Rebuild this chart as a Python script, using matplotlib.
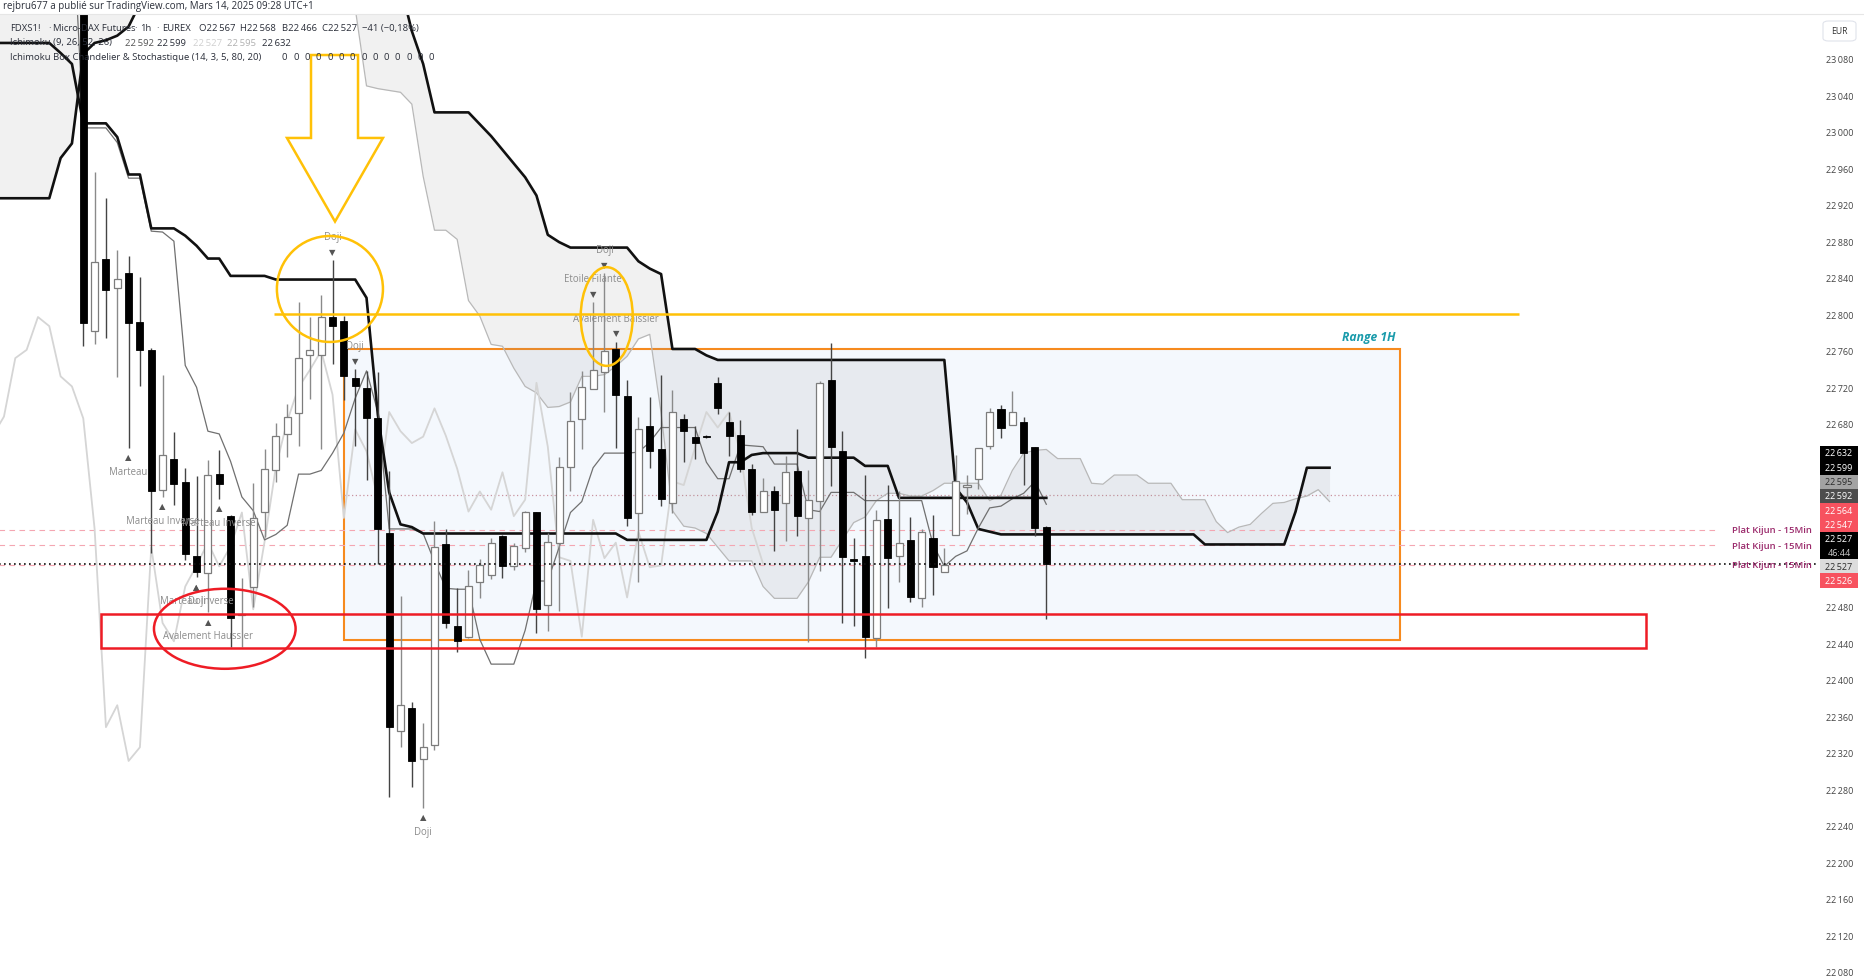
import matplotlib
matplotlib.use("Agg")
import matplotlib.pyplot as plt
import numpy as np
from matplotlib.patches import Rectangle, Ellipse, Polygon, FancyBboxPatch

plt.rcParams["font.family"] = ["Open Sans", "DejaVu Sans"]

W, H = 1865, 979

# ------------------------------- FDXS1! 1h candles, bar 0 = first candle on screen
opens = [23230, 22782, 22860, 22829, 22845, 22792, 22761, 22608, 22642, 22616,
         22535, 22517, 22625, 22579, 22471, 22501, 22583, 22630, 22669, 22692,
         22755, 22755, 22797, 22793, 22730, 22719, 22686, 22560, 22344, 22369,
         22313, 22328, 22548, 22459, 22447, 22507, 22515, 22557, 22524, 22544,
         22583, 22482, 22550, 22633, 22685, 22718, 22737, 22762, 22710, 22582,
         22678, 22653, 22593, 22685, 22666, 22667, 22725, 22682, 22668, 22631,
         22583, 22607, 22593, 22628, 22577, 22596, 22728, 22650, 22532, 22535,
         22446, 22576, 22535, 22553, 22489, 22555, 22518, 22558, 22611, 22620,
         22656, 22696, 22679, 22682, 22655, 22567]
highs = [23240, 22956, 22927, 22870, 22864, 22841, 22763, 22733, 22671, 22632,
         22623, 22640, 22651, 22580, 22511, 22615, 22652, 22681, 22702, 22813,
         22797, 22821, 22859, 22798, 22740, 22738, 22737, 22628, 22492, 22376,
         22353, 22574, 22565, 22500, 22520, 22532, 22555, 22558, 22550, 22585,
         22583, 22561, 22644, 22715, 22738, 22813, 22845, 22770, 22728, 22688,
         22709, 22733, 22717, 22691, 22678, 22668, 22731, 22693, 22684, 22636,
         22621, 22612, 22645, 22674, 22630, 22727, 22769, 22672, 22555, 22624,
         22586, 22613, 22607, 22578, 22565, 22580, 22544, 22646, 22624, 22654,
         22697, 22701, 22716, 22688, 22655, 22568]
lows = [22765, 22767, 22774, 22731, 22654, 22721, 22539, 22600, 22591, 22531,
        22512, 22474, 22598, 22436, 22436, 22480, 22556, 22616, 22644, 22656,
        22707, 22652, 22746, 22706, 22656, 22619, 22527, 22271, 22326, 22282,
        22260, 22323, 22457, 22430, 22446, 22489, 22510, 22511, 22520, 22540,
        22451, 22453, 22475, 22607, 22652, 22718, 22693, 22654, 22568, 22507,
        22632, 22590, 22582, 22638, 22642, 22665, 22691, 22645, 22627, 22580,
        22583, 22541, 22552, 22557, 22441, 22519, 22612, 22462, 22459, 22424,
        22436, 22478, 22507, 22485, 22480, 22493, 22518, 22558, 22581, 22609,
        22653, 22664, 22679, 22613, 22557, 22466]
closes = [22790, 22857, 22827, 22839, 22790, 22761, 22607, 22646, 22614, 22538,
          22518, 22624, 22614, 22468, 22471, 22577, 22631, 22667, 22688, 22752,
          22761, 22797, 22787, 22732, 22721, 22686, 22565, 22348, 22372, 22311,
          22326, 22545, 22462, 22442, 22502, 22525, 22550, 22524, 22546, 22583,
          22477, 22551, 22633, 22683, 22720, 22739, 22760, 22712, 22577, 22674,
          22650, 22598, 22693, 22672, 22659, 22666, 22697, 22667, 22631, 22584,
          22606, 22586, 22627, 22579, 22597, 22725, 22655, 22534, 22530, 22447,
          22575, 22533, 22550, 22490, 22562, 22523, 22525, 22617, 22613, 22654,
          22693, 22676, 22693, 22648, 22566, 22527]

# ------------------------------- Ichimoku (9, 26, 52, 26), values read per bar
tenkan_start = -1
tenkan = [23250,
          23004, 23004, 23004, 22988, 22949, 22949, 22891, 22890, 22880, 22744,
          22720, 22672, 22669, 22639, 22600, 22585, 22553, 22559, 22569, 22625,
          22625, 22629, 22648, 22670, 22708, 22738, 22693, 22565, 22565, 22565,
          22560, 22529, 22500, 22499, 22499, 22444, 22417, 22417, 22417, 22454,
          22508, 22508, 22545, 22583, 22595, 22632, 22648, 22648, 22648, 22649,
          22660, 22676, 22676, 22676, 22676, 22638, 22620, 22620, 22657, 22656,
          22655, 22636, 22636, 22636, 22586, 22584, 22605, 22605, 22605, 22596,
          22596, 22596, 22596, 22596, 22596, 22548, 22524, 22535, 22541, 22566,
          22588, 22590, 22598, 22604, 22617, 22592]

kijun_start = -8
kijun = ([23097] * 6 + [23086, 23074] + [23009] * 3 + [22994] + [22953] * 2
         + [22894] * 3 + [22886, 22875] + [22861] * 2 + [22842] * 4 + [22838] * 8
         + [22818, 22690, 22605, 22570, 22567] + [22560] * 18 + [22553] * 8
         + [22584] + [22638] * 2 + [22646] + [22648] * 4 + [22643] * 5
         + [22634] * 3 + [22599] * 14)

senkou_start = -8
senkou_a = ([23250] * 32
            + [23135, 23050, 23047, 23045, 23043, 23030, 22951, 22892, 22892, 22882,
               22815, 22798, 22767, 22765, 22741, 22721, 22714, 22698, 22699, 22704,
               22732, 22732, 22734, 22743, 22754, 22773, 22778, 22692, 22585, 22568,
               22566, 22560, 22545, 22530, 22530, 22530, 22502, 22489, 22489, 22489,
               22507, 22534, 22534, 22553, 22572, 22578, 22596, 22604, 22604, 22601,
               22601, 22607, 22615, 22615, 22615, 22615, 22596, 22602, 22629, 22648,
               22651, 22652, 22642, 22642, 22642, 22615, 22614, 22624, 22624, 22624,
               22615, 22615, 22615, 22597, 22597, 22597, 22573, 22561, 22567, 22570,
               22582, 22593, 22594, 22598, 22601, 22608, 22595])
senkou_b = ([22927] * 6 + [22971, 22987, 23085, 23097, 23100, 23105, 23115, 23140]
            + [23250] * 22
            + [23160, 23110, 23074, 23021, 23021, 23021, 23021, 23008, 22995, 22980,
               22965, 22950, 22930, 22887, 22879]
            + [22873] * 6 + [22858, 22850, 22844, 22762, 22762, 22762, 22755]
            + [22750] * 21 + [22610, 22594, 22565, 22562] + [22559] * 18
            + [22548] * 8 + [22584] + [22632] * 3)
chikou_shift = 25

# ------------------------------- candle patterns (bar, name, side)
pattern_bars = [4, 7, 10, 10, 11, 12, 22, 24, 30, 45, 46, 47]
pattern_names = ["Marteau", "Marteau Inverse", "Marteau Inverse", "Doji",
                 "Avalement Haussier", "Marteau Inverse", "Doji", "Doji", "Doji",
                 "Etoile Filante", "Doji", "Avalement Baissier"]
pattern_side = ["below", "below", "below", "below", "below", "below",
                "above", "above", "below", "above", "above", "above"]

# ------------------------------- horizontal levels
plat_kijun = [22564, 22547, 22526]
last_price = 22527
range_low, range_high = 22443, 22762
yellow_level = 22800
red_zone = (22435, 22472)

# price scale boxes on the right
axis_labels = ["22\u2009632", "22\u2009599", "22\u2009595", "22\u2009592", "22\u2009564",
               "22\u2009547", "22\u2009527", "46:44", "22\u2009527", "22\u2009526"]
axis_label_bg = ["#000000", "#000000", "#a3a3a3", "#4d4d4d", "#f7525f",
                 "#f7525f", "#000000", "#000000", "#dcdcdc", "#f7525f"]
axis_label_fg = ["white", "white", "#2a2a2a", "white", "white",
                 "white", "white", "#cfcfcf", "#2a2a2a", "white"]

fig = plt.figure(figsize=(W / 100, H / 100), dpi=100)
fig.patch.set_facecolor("white")
ax = fig.add_axes([0, 0, 1819 / W, (H - 15) / H])
ax.set_facecolor("white")
ax.set_xlim(-7.35, 153.2)
ax.set_ylim(22073.4, 23128.7)
for s in ax.spines.values():
    s.set_visible(False)
ax.xaxis.set_visible(False)

# range rectangle
ax.add_patch(Rectangle((23.0, range_low), 116.2 - 23.0, range_high - range_low,
                       fc="#f4f8fd", ec="#f68a1e", lw=1.5, zorder=0.5))
ax.hlines((range_low + range_high) / 2, 23.0, 116.2, colors="#c9939f",
          linestyles=(0, (1, 2)), lw=0.9, zorder=0.6)
ax.text(115.8, range_high + 6, "Range 1H", ha="right", va="bottom", color="#1a9bab",
        fontsize=8.7, fontweight="bold", style="italic", zorder=9)

# cloud
xs = np.arange(senkou_start, senkou_start + len(senkou_a))
ax.fill_between(xs, senkou_a, senkou_b, color="#8c8c8c", alpha=0.12, lw=0,
                interpolate=True, zorder=1)
ax.plot(xs, senkou_a, color="#b8b8b8", lw=0.9, zorder=2)
ax.plot(xs, senkou_b, color="#111111", lw=1.9, zorder=3)

# chikou
cx = np.arange(len(closes)) - chikou_shift
ax.plot(cx, closes, color="#d5d5d5", lw=1.3, zorder=2)

# tenkan / kijun
ax.plot(np.arange(tenkan_start, tenkan_start + len(tenkan)), tenkan,
        color="#707070", lw=0.9, zorder=3)
ax.plot(np.arange(kijun_start, kijun_start + len(kijun)), kijun,
        color="#111111", lw=1.9, zorder=3)

# horizontal levels
for lvl in plat_kijun:
    ax.hlines(lvl, -8, 144.2, colors="#f4a6b2", linestyles=(0, (5, 4)), lw=0.8, zorder=1.5)
    ax.text(152.6, lvl, "Plat Kijun - 15Min", ha="right", va="center", color="#9b2b6c",
            fontsize=6.8, fontweight="semibold", zorder=9)
ax.hlines(last_price, -8, 154, colors="#111111", linestyles=(0, (1, 2)), lw=1.2, zorder=6)

# candles
o = np.array(opens, float)
h = np.array(highs, float)
lo = np.array(lows, float)
c = np.array(closes, float)
bx = np.arange(len(o))
up = c >= o
body_low = np.minimum(o, c)
body_h = np.maximum(np.abs(c - o), 1.0)
ax.vlines(bx[up], lo[up], h[up], colors="#8a8a8a", lw=1.0, zorder=4)
ax.vlines(bx[~up], lo[~up], h[~up], colors="#444444", lw=1.0, zorder=4)
ax.bar(bx[up], body_h[up], bottom=body_low[up], width=0.62, color="white",
       edgecolor="#7c7c7c", lw=0.9, zorder=5)
ax.bar(bx[~up], body_h[~up], bottom=body_low[~up], width=0.62, color="black",
       edgecolor="black", lw=0.6, zorder=5)

# patterns
for b, name, side in zip(pattern_bars, pattern_names, pattern_side):
    if side == "below":
        ax.annotate("\u25B2", (b, lows[b]), xytext=(0, -6.5), textcoords="offset points",
                    ha="center", va="center", fontsize=6, color="#555555", zorder=7,
                    family="DejaVu Sans")
        ax.annotate(name, (b, lows[b]), xytext=(0, -17), textcoords="offset points",
                    ha="center", va="center", fontsize=6.9, color="#8c8c8c", zorder=7)
    else:
        ax.annotate("\u25BC", (b, highs[b]), xytext=(0, 6.5), textcoords="offset points",
                    ha="center", va="center", fontsize=6, color="#555555", zorder=7,
                    family="DejaVu Sans")
        ax.annotate(name, (b, highs[b]), xytext=(0, 17), textcoords="offset points",
                    ha="center", va="center", fontsize=6.9, color="#8c8c8c", zorder=7)

# drawings
yel = "#ffc107"
ax.hlines(yellow_level, 16.8, 126.7, colors=yel, lw=1.8, zorder=8)
arrow = [(20.1, 23083.8), (24.25, 23083.8), (24.25, 22993), (26.45, 22993),
         (22.22, 22901.5), (17.98, 22993), (20.1, 22993)]
ax.add_patch(Polygon(arrow, closed=True, fill=False, ec=yel, lw=1.8, zorder=8))
ax.add_patch(Ellipse((21.77, 22827.7), 9.36, 116, fill=False, ec=yel, lw=1.8, zorder=8))
ax.add_patch(Ellipse((46.2, 22797.5), 4.59, 108, fill=False, ec=yel, lw=1.8, zorder=8))
red = "#ee1c25"
ax.add_patch(Rectangle((1.57, red_zone[0]), 137.9 - 1.57, red_zone[1] - red_zone[0],
                       fill=False, ec=red, lw=1.8, zorder=8))
ax.add_patch(Ellipse((12.49, 22455.7), 12.5, 87.6, fill=False, ec=red, lw=1.8, zorder=8))

# price scale
ticks = [v for v in range(22080, 23081, 40) if not 22500 < v < 22660]
ax.yaxis.tick_right()
ax.set_yticks(ticks)
ax.set_yticklabels([f"{v // 1000}\u2009{v % 1000:03d}" for v in ticks])
ax.tick_params(axis="y", length=0, pad=5, labelsize=6.5, labelcolor="#444444")

box_y = [454, 468.5, 483, 497, 511.5, 525.7, 540, 554, 567.4, 581.6]
for lab, yc, bg, fg in zip(axis_labels, box_y, axis_label_bg, axis_label_fg):
    fig.add_artist(Rectangle((1820 / W, 1 - (yc + 7.2) / H), 38 / W, 14.4 / H,
                             transform=fig.transFigure, fc=bg, ec="none", zorder=10))
    fig.text(1839 / W, 1 - yc / H, lab, ha="center", va="center", color=fg,
             fontsize=6.5, zorder=11)
fig.add_artist(FancyBboxPatch((1823 / W, 1 - 42 / H), 33 / W, 20 / H,
                              boxstyle="round,pad=0,rounding_size=0.003",
                              transform=fig.transFigure, fc="white", ec="#e0e3eb", lw=0.8))
fig.text(1839.5 / W, 1 - 32 / H, "EUR", ha="center", va="center", fontsize=6.2, color="#333333")

# header
fig.add_artist(plt.Line2D([0, 1], [1 - 15 / H, 1 - 15 / H], transform=fig.transFigure,
                          color="#e6e6e6", lw=0.8))
fig.text(3 / W, 1 - 6 / H, "rejbru677 a publié sur TradingView.com, Mars 14, 2025 09:28 UTC+1",
         ha="left", va="center", fontsize=7.0, color="#2a2e39")
dark = "#2a2e39"
for txt, x0 in [("FDXS1!", 10), ("·", 48), ("Micro-DAX Futures", 53), ("·", 134),
                ("1h", 140), ("·", 156), ("EUREX", 162), ("O22\u2009567", 199),
                ("H22\u2009568", 240), ("B22\u2009466", 282), ("C22\u2009527", 322),
                ("\u221241 (\u22120,18%)", 362)]:
    fig.text(x0 / W, 1 - 28.5 / H, txt, ha="left", va="center", fontsize=6.8, color=dark)
for txt, x0, col in [("Ichimoku (9, 26, 52, 26)", 10, dark), ("22\u2009592", 125, "#555555"),
                     ("22\u2009599", 157, dark), ("22\u2009527", 193, "#d0d0d0"),
                     ("22\u2009595", 227, "#b0b0b0"), ("22\u2009632", 262, dark)]:
    fig.text(x0 / W, 1 - 43 / H, txt, ha="left", va="center", fontsize=6.8, color=col)
fig.text(10 / W, 1 - 57.5 / H, "Ichimoku Box Chandelier & Stochastique (14, 3, 5, 80, 20)",
         ha="left", va="center", fontsize=6.8, color=dark)
for k in range(14):
    fig.text((282 + 11.3 * k) / W, 1 - 57.5 / H, "0", ha="left", va="center",
             fontsize=6.8, color=dark)

fig.savefig("out.png", dpi=100, facecolor="white")
